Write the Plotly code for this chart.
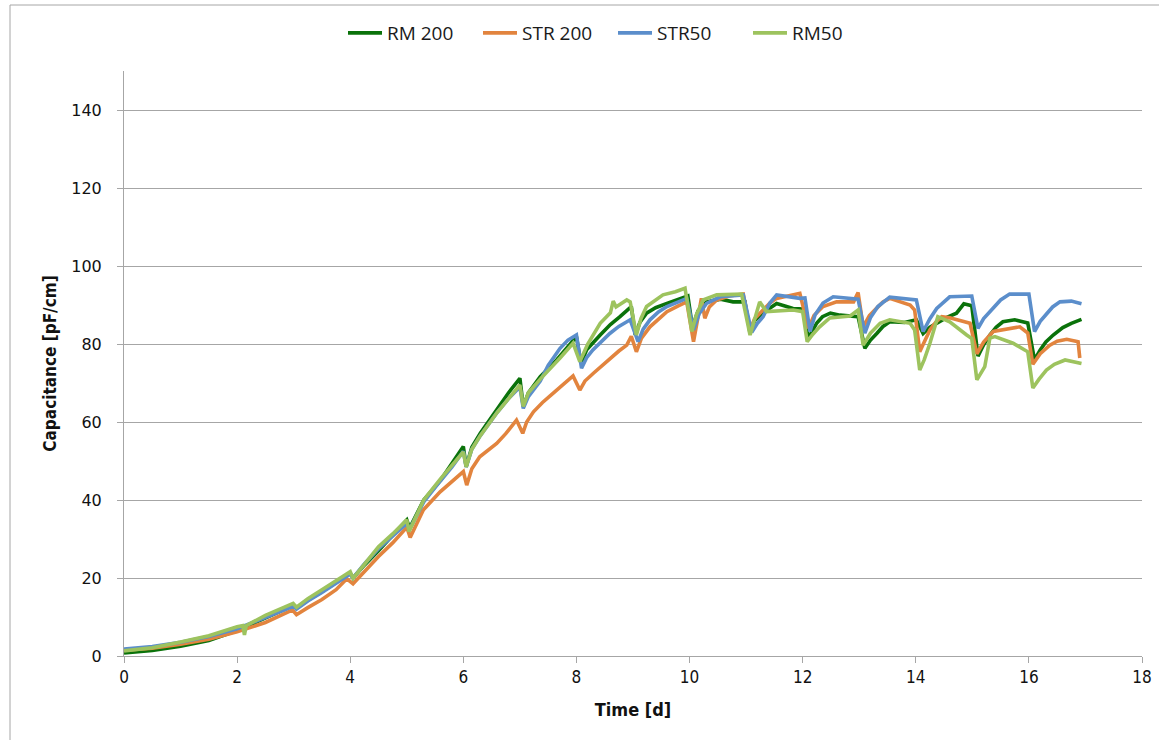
import plotly.graph_objects as go

# ---- data ----
rm200_t = [0, 0.5, 1, 1.5, 2, 2.5, 3.0, 3.05, 3.25, 3.5, 3.75, 4.0, 4.05, 4.25, 4.5, 4.75, 5.0, 5.05, 5.3, 5.6,
           5.8, 6.0, 6.05, 6.15, 6.3, 6.6, 6.8, 7.0, 7.06, 7.15, 7.36, 7.65, 7.85, 8.0, 8.08, 8.18, 8.42, 8.6,
           8.77, 8.97, 9.04, 9.12, 9.24, 9.4, 9.6, 9.8, 9.97, 10.05, 10.15, 10.3, 10.55, 10.77, 10.98, 11.07,
           11.15, 11.3, 11.54, 11.83, 12.0, 12.1, 12.18, 12.25, 12.35, 12.49, 12.66, 12.98, 13.1, 13.2, 13.31,
           13.42, 13.54, 13.8, 14.01, 14.13, 14.25, 14.37, 14.55, 14.72, 14.85, 14.99, 15.1, 15.2, 15.31,
           15.42, 15.54, 15.75, 15.98, 16.1, 16.2, 16.3, 16.43, 16.6, 16.75, 16.93]
rm200_v = [0.8, 1.4, 2.5, 4.0, 6.5, 9.8, 13.0, 12.3, 14.3, 16.5, 18.8, 21.2, 20.0, 23.3, 27.0, 30.8, 34.9, 32.8,
           40.0, 45.1, 49.3, 53.7, 48.5, 53.5, 57.1, 63.5, 67.5, 71.2, 63.9, 67.5, 71.6, 75.9, 79.5, 81.9, 75.0,
           78.5, 82.3, 85.0, 87.0, 89.6, 82.3, 85.5, 87.9, 89.3, 90.4, 91.3, 92.3, 84.4, 88.5, 90.8, 91.5, 90.8,
           90.8, 82.7, 86.0, 88.0, 90.4, 89.1, 89.0, 81.5, 83.8, 85.4, 87.0, 87.9, 87.4, 87.0, 78.9, 81.0, 82.7,
           84.5, 85.7, 85.5, 86.2, 82.7, 84.3, 85.3, 86.8, 87.9, 90.3, 89.8, 76.9, 79.8, 82.3, 84.3, 85.7, 86.2,
           85.4, 75.9, 78.5, 80.5, 82.3, 84.2, 85.3, 86.3]

str200_t = [0, 0.5, 1, 1.5, 2, 2.5, 2.98, 3.05, 3.25, 3.5, 3.75, 3.94, 4.05, 4.25, 4.5, 4.75, 5.0, 5.06, 5.29,
            5.59, 5.8, 6.0, 6.06, 6.15, 6.29, 6.45, 6.59, 6.75, 6.94, 7.05, 7.12, 7.24, 7.4, 7.59, 7.75, 7.94,
            8.06, 8.15, 8.3, 8.45, 8.59, 8.75, 8.89, 8.97, 9.06, 9.15, 9.3, 9.45, 9.6, 9.8, 9.95, 10.07, 10.21,
            10.27, 10.35, 10.48, 10.7, 10.95, 11.07, 11.15, 11.3, 11.42, 11.54, 11.75, 11.95, 12.1, 12.2, 12.36,
            12.6, 12.9, 12.98, 13.07, 13.18, 13.31, 13.42, 13.54, 13.7, 13.9, 13.98, 14.07, 14.15, 14.25, 14.35,
            14.46, 14.6, 14.8, 14.96, 15.08, 15.2, 15.37, 15.66, 15.84, 15.98, 16.07, 16.2, 16.37, 16.5, 16.67,
            16.87, 16.9]
str200_v = [1.5, 2.0, 3.0, 4.3, 6.2, 8.6, 11.8, 10.6, 12.4, 14.5, 17.0, 19.8, 18.5, 21.7, 25.5, 29.0, 33.0, 30.4,
            37.4, 42.1, 44.8, 47.3, 43.8, 48.0, 51.1, 52.8, 54.5, 57.0, 60.5, 57.1, 60.0, 62.6, 65.0, 67.4, 69.5,
            71.8, 68.2, 70.5, 72.5, 74.5, 76.3, 78.2, 79.7, 82.0, 78.0, 81.5, 84.4, 86.5, 88.3, 89.8, 90.8, 80.6,
            91.7, 86.6, 89.5, 91.3, 92.3, 92.8, 83.6, 86.5, 88.7, 90.5, 91.7, 92.3, 93.0, 84.0, 87.3, 89.6, 90.8,
            90.8, 93.2, 84.4, 87.3, 89.2, 90.8, 91.7, 91.0, 90.0, 88.7, 78.0, 80.5, 83.6, 85.5, 87.0, 86.7, 85.8,
            85.3, 77.5, 80.5, 83.2, 83.8, 84.4, 82.8, 74.8, 77.5, 79.7, 80.7, 81.2, 80.6, 76.4]

str50_t = [0, 0.5, 1, 1.5, 2, 2.5, 3.0, 3.05, 3.25, 3.5, 3.75, 4.0, 4.05, 4.25, 4.5, 4.75, 5.0, 5.05, 5.3, 5.6,
           5.8, 6.0, 6.05, 6.15, 6.3, 6.6, 6.8, 7.0, 7.06, 7.15, 7.36, 7.5, 7.71, 7.85, 8.0, 8.09, 8.18, 8.29,
           8.45, 8.59, 8.75, 8.95, 9.09, 9.18, 9.3, 9.45, 9.6, 9.8, 9.95, 10.07, 10.17, 10.3, 10.54, 10.95, 11.1,
           11.2, 11.3, 11.42, 11.54, 11.95, 12.04, 12.13, 12.22, 12.36, 12.54, 12.98, 13.1, 13.2, 13.33, 13.54,
           14.01, 14.13, 14.25, 14.37, 14.6, 14.99, 15.1, 15.2, 15.35, 15.5, 15.66, 16.0, 16.1, 16.2, 16.3,
           16.42, 16.55, 16.75, 16.93]
str50_v = [1.8, 2.4, 3.5, 5.0, 7.0, 9.8, 12.8, 12.0, 14.1, 16.3, 18.6, 21.0, 20.0, 23.6, 27.5, 30.7, 34.0, 32.5,
           39.5, 45.0, 48.5, 52.5, 48.5, 53.0, 56.5, 62.5, 66.0, 69.0, 63.5, 66.5, 70.5, 74.5, 78.9, 81.0, 82.3,
           73.8, 76.5, 78.5, 80.8, 82.7, 84.5, 86.2, 80.6, 83.8, 86.2, 88.2, 89.6, 90.8, 91.7, 83.6, 87.8, 90.4,
           92.1, 92.6, 83.0, 85.3, 87.0, 90.5, 92.6, 91.7, 91.8, 83.2, 87.5, 90.5, 92.1, 91.5, 82.8, 86.8, 89.6,
           92.0, 91.3, 83.2, 86.5, 89.1, 92.1, 92.3, 84.0, 86.5, 89.0, 91.3, 92.8, 92.8, 83.2, 85.8, 87.5, 89.5,
           90.8, 91.0, 90.3]

rm50_t = [0, 0.5, 1, 1.5, 2.0, 2.1, 2.13, 2.16, 2.5, 2.99, 3.05, 3.25, 3.5, 3.75, 4.0, 4.05, 4.25, 4.5, 4.75,
          5.0, 5.04, 5.3, 5.6, 5.8, 6.0, 6.05, 6.15, 6.3, 6.6, 6.8, 7.0, 7.06, 7.15, 7.36, 7.55, 7.71, 7.94,
          8.06, 8.2, 8.42, 8.6, 8.65, 8.7, 8.89, 8.95, 9.06, 9.14, 9.24, 9.53, 9.75, 9.92, 10.04, 10.12, 10.24,
          10.48, 10.92, 11.07, 11.24, 11.36, 11.83, 12.0, 12.08, 12.18, 12.3, 12.48, 12.84, 12.98, 13.07, 13.2,
          13.37, 13.54, 13.9, 13.98, 14.07, 14.15, 14.25, 14.39, 14.6, 14.9, 14.99, 15.08, 15.22, 15.31, 15.4,
          15.72, 15.98, 16.07, 16.18, 16.31, 16.45, 16.64, 16.8, 16.93]
rm50_v = [1.3, 2.1, 3.6, 5.2, 7.5, 7.8, 5.4, 7.8, 10.4, 13.5, 12.5, 14.7, 17.0, 19.2, 21.6, 19.9, 23.6, 28.0,
          31.3, 34.9, 31.9, 40.0, 45.5, 48.8, 52.3, 48.5, 53.0, 56.5, 62.5, 66.0, 69.5, 64.0, 67.5, 71.0, 73.8,
          76.4, 80.2, 75.5, 80.0, 85.3, 88.0, 91.0, 89.5, 91.3, 90.8, 82.3, 86.5, 89.6, 92.6, 93.4, 94.3, 83.2,
          87.5, 91.3, 92.6, 92.8, 82.3, 90.8, 88.3, 88.7, 88.3, 80.6, 82.5, 84.4, 86.7, 87.2, 88.7, 79.7, 82.8,
          85.3, 86.2, 85.3, 83.6, 73.3, 76.0, 80.2, 87.0, 85.7, 82.3, 81.4, 70.8, 74.2, 81.5, 81.9, 80.2, 78.0,
          68.7, 71.0, 73.3, 74.8, 75.9, 75.5, 75.0]

series = [
    ("RM 200", rm200_t, rm200_v, "#0A720A"),
    ("STR 200", str200_t, str200_v, "#E2843E"),
    ("STR50", str50_t, str50_v, "#5B8ECB"),
    ("RM50", rm50_t, rm50_v, "#9DC35E"),
]

x_ticks = [0, 2, 4, 6, 8, 10, 12, 14, 16, 18]
y_ticks = [0, 20, 40, 60, 80, 100, 120, 140]

fig = go.Figure()
for name, t, v, c in series:
    fig.add_trace(go.Scatter(x=t, y=v, name=name, mode="lines",
                             line=dict(color=c, width=3.6)))

fig.update_layout(
    width=1159, height=740,
    paper_bgcolor="white", plot_bgcolor="white",
    margin=dict(l=124, r=17, t=71, b=84, autoexpand=False),
    font=dict(family="Open Sans", color="#222222"),
    legend=dict(orientation="h", x=(613 - 124) / 1018, xanchor="center", y=(656 - 33) / 585, yanchor="middle",
                font=dict(size=19, family="Open Sans", color="#1a1a1a"),
                itemwidth=34, entrywidth=86, bgcolor="rgba(0,0,0,0)"),
    showlegend=True,
)

fig.update_xaxes(range=[0, 18], tickvals=x_ticks, ticks="outside", ticklen=6, tickcolor="#a6a6a6",
                 showline=True, linecolor="#a6a6a6", linewidth=1, showgrid=False, zeroline=False,
                 tickfont=dict(size=17, family="DejaVu Sans Condensed", color="#111"),
                 title=dict(text="<b>Time [d]</b>", font=dict(size=18, family="DejaVu Sans Condensed", color="#111"),
                            standoff=16))
fig.update_yaxes(range=[0, 150], tickvals=y_ticks, ticks="outside", ticklen=6, tickcolor="#a6a6a6",
                 showline=True, linecolor="#a6a6a6", linewidth=1, showgrid=True, gridcolor="#a6a6a6",
                 gridwidth=1, zeroline=False, ticklabelstandoff=12,
                 tickfont=dict(size=16, family="DejaVu Sans", color="#111"),
                 title=dict(text="<b>Capacitance [pF/cm]</b>",
                            font=dict(size=17, family="DejaVu Sans Condensed", color="#111"), standoff=10))

# outer chart border (left and top visible)
fig.add_shape(type="rect", xref="paper", yref="paper",
              x0=(10 - 124) / 1018, x1=(1200 - 124) / 1018,
              y0=(656 - 800) / 585, y1=(656 - 5) / 585,
              line=dict(color="#a6a6a6", width=1), layer="below")

fig.write_html("out.html")
